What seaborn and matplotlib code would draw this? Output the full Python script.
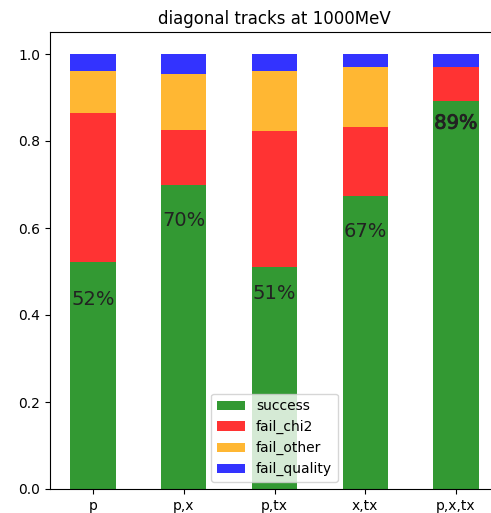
import numpy as np
import pandas as pd
import matplotlib
matplotlib.use("Agg")
import matplotlib.pyplot as plt
import matplotlib.patheffects as pe
from matplotlib.colors import to_rgb
import seaborn as sns

# Track reconstruction outcome fractions per fit configuration
configs = ["p", "p,x", "p,tx", "x,tx", "p,x,tx"]
success = [0.522, 0.700, 0.510, 0.674, 0.892]
fail_chi2 = [0.342, 0.125, 0.314, 0.159, 0.079]
fail_other = [0.098, 0.128, 0.138, 0.138, 0.000]
fail_quality = [0.038, 0.047, 0.038, 0.029, 0.029]
pct_labels = ["52%", "70%", "51%", "67%", "89%"]

categories = ["success", "fail_chi2", "fail_other", "fail_quality"]
base_colors = ["green", "red", "orange", "blue"]
alpha = 0.8


def blend(c, a=alpha):
    r = np.array(to_rgb(c))
    return tuple(a * r + (1 - a) * np.ones(3))


colors = [blend(c) for c in base_colors]

df = pd.DataFrame({
    "config": configs,
    "success": success,
    "fail_chi2": fail_chi2,
    "fail_other": fail_other,
    "fail_quality": fail_quality,
})
cum = df[categories].cumsum(axis=1)
cum["config"] = df["config"]

fig = plt.figure(figsize=(4.91, 5.13), dpi=100)
ax = fig.add_axes([50 / 491, 24 / 513, 449 / 491, 456.75 / 513])

# Stacked bars: draw cumulative totals from the top layer down
for cat, col in reversed(list(zip(categories, colors))):
    sns.barplot(data=cum, x="config", y=cat, order=configs, color=col,
                width=0.5, ax=ax, saturation=1, errorbar=None, label=cat)

ax.set_xlim(-0.475, 4.475)
ax.set_ylim(0, 1.05)
ax.set_yticks([0.0, 0.2, 0.4, 0.6, 0.8, 1.0])
ax.set_xlabel("")
ax.set_ylabel("")
ax.spines["right"].set_visible(False)
ax.set_title("diagonal tracks at 1000MeV", fontsize=12)

# Success percentage labels inside the green bars
offsets = [0.086, 0.082, 0.060, 0.083, 0.051]
for i, (s, lab) in enumerate(zip(success, pct_labels)):
    t = ax.text(i, s - offsets[i], lab, ha="center", va="center",
                fontsize=14, color="#222222")
    if i == len(success) - 1:
        t.set_path_effects([pe.withStroke(linewidth=0.6, foreground="#222222")])

handles, labels = ax.get_legend_handles_labels()
order = [labels.index(c) for c in categories]
ax.legend([handles[k] for k in order], categories, loc="lower center",
          fontsize=10)

fig.savefig("out.png", dpi=100)
